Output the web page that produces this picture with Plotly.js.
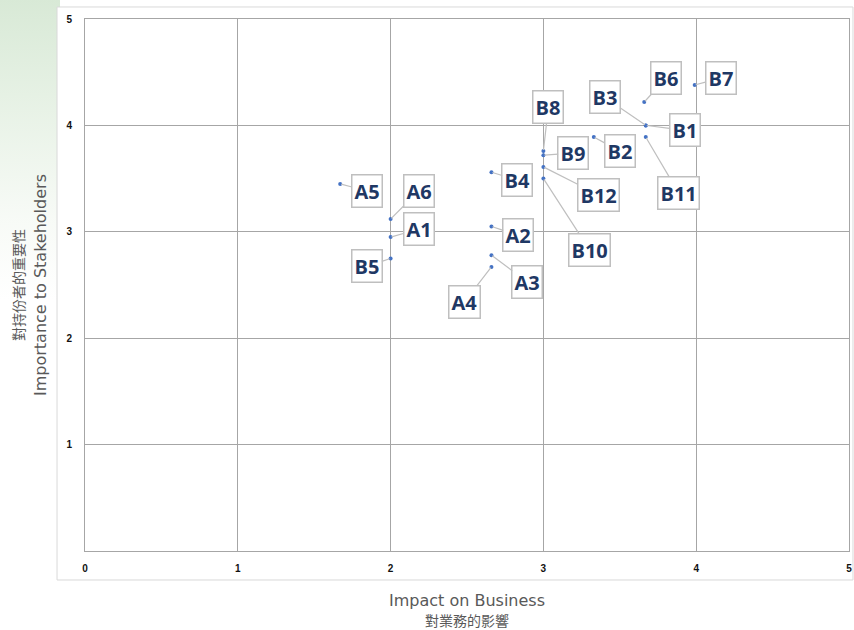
<!DOCTYPE html>
<html>
<head>
<meta charset="utf-8">
<script src="https://cdn.plot.ly/plotly-3.0.1.min.js"></script>
<style>
  html, body { margin: 0; padding: 0; }
  body {
    width: 854px; height: 630px; overflow: hidden;
    background:
      linear-gradient(to bottom, rgba(214,232,212,0.95) 0px, rgba(228,240,226,0.8) 120px, rgba(240,246,238,0.5) 220px, rgba(255,255,255,0) 300px) left top / 60px 630px no-repeat,
      #ffffff;
  }
  #chart { width: 854px; height: 630px; }
</style>
</head>
<body>
<div id="chart"></div>
<script>
// ---- data ----
const labels = ["A1","A2","A3","A4","A5","A6","B1","B2","B3","B4","B5","B6","B7","B8","B9","B10","B11","B12"];
const impactOnBusiness = [2.0, 2.66, 2.66, 2.66, 1.67, 2.0, 3.67, 3.33, 3.67, 2.66, 2.0, 3.66, 3.99, 3.0, 3.0, 3.0, 3.67, 3.0];
const importanceToStakeholders = [2.95, 3.05, 2.78, 2.67, 3.45, 3.12, 4.0, 3.89, 4.0, 3.56, 2.75, 4.22, 4.38, 3.76, 3.72, 3.5, 3.89, 3.61];
const xTicks = [0, 1, 2, 3, 4, 5];
const yTicks = [1, 2, 3, 4, 5];

// label callout offsets (pixels) – style only
const labelOffsetX = [28, 27, 36, -27, 27, 28, 39, 26, -41, 26, -24, 22, 26, 5, 30, 46, 33, 55];
const labelOffsetY = [-8, 9, 27, 35, 7, -28, 5, 14, -28, 8, 8, -24, -7, -44, -2, 71, 56, 28];

const gridCol = '#a6a6a6';

const trace = {
  type: 'scatter',
  mode: 'markers',
  x: impactOnBusiness,
  y: importanceToStakeholders,
  text: labels,
  marker: { size: 4, color: '#4472C4' },
  hoverinfo: 'text+x+y',
  showlegend: false
};

const annotations = labels.map((lab, i) => ({
  x: impactOnBusiness[i],
  y: importanceToStakeholders[i],
  xref: 'x', yref: 'y',
  text: lab,
  showarrow: true,
  arrowhead: 0,
  arrowwidth: 1.2,
  arrowcolor: '#bfbfbf',
  standoff: 1,
  ax: labelOffsetX[i],
  ay: labelOffsetY[i],
  bgcolor: '#ffffff',
  bordercolor: '#bfbfbf',
  borderwidth: 1.5,
  borderpad: 2,
  font: { family: 'Open Sans, Noto Sans, sans-serif', size: 20, color: '#1F3864', weight: 'bold' }
}));

const titleFont = { family: 'DejaVu Sans, sans-serif', size: 16, color: '#595959' };
const cjkFont = { family: 'Noto Sans CJK TC, sans-serif', size: 14, color: '#595959' };

annotations.push(
  { xref: 'paper', yref: 'paper', x: 0.5, y: 0, xanchor: 'center', yanchor: 'middle', yshift: -49, text: 'Impact on Business', showarrow: false, font: titleFont },
  { xref: 'paper', yref: 'paper', x: 0.5, y: 0, xanchor: 'center', yanchor: 'middle', yshift: -69, text: '對業務的影響', showarrow: false, font: cjkFont },
  { xref: 'paper', yref: 'paper', x: 0, y: 0.5, xanchor: 'center', yanchor: 'middle', xshift: -45, text: 'Importance to Stakeholders', textangle: -90, showarrow: false, font: titleFont },
  { xref: 'paper', yref: 'paper', x: 0, y: 0.5, xanchor: 'center', yanchor: 'middle', xshift: -67, text: '對持份者的重要性', textangle: -90, showarrow: false, font: cjkFont }
);

const layout = {
  width: 854, height: 630,
  margin: { l: 85, r: 5, t: 19, b: 79 },
  paper_bgcolor: 'rgba(0,0,0,0)',
  plot_bgcolor: '#ffffff',
  xaxis: {
    range: [0, 5], tickvals: xTicks, ticktext: xTicks.map(String),
    showgrid: true, gridcolor: gridCol, gridwidth: 1,
    showline: true, linecolor: gridCol, mirror: true, zeroline: false,
    ticks: 'outside', ticklen: 8, tickcolor: 'rgba(0,0,0,0)',
    tickfont: { family: 'Liberation Sans, Arial, sans-serif', size: 10, color: '#111', weight: 'bold' },
    fixedrange: true
  },
  yaxis: {
    range: [0, 5], tickvals: yTicks, ticktext: yTicks.map(String),
    showgrid: true, gridcolor: gridCol, gridwidth: 1,
    showline: true, linecolor: gridCol, mirror: true, zeroline: false,
    ticks: 'outside', ticklen: 10, tickcolor: 'rgba(0,0,0,0)',
    tickfont: { family: 'Liberation Sans, Arial, sans-serif', size: 10, color: '#111', weight: 'bold' },
    fixedrange: true
  },
  shapes: [{
    type: 'rect', xref: 'paper', yref: 'paper', layer: 'below',
    x0: -0.0366, x1: 1.0052, y0: -0.0545, y1: 1.0226,
    fillcolor: '#ffffff', line: { color: '#d9d9d9', width: 1 }
  }],
  annotations: annotations
};

Plotly.newPlot('chart', [trace], layout, { displayModeBar: false, staticPlot: true });
</script>
</body>
</html>
